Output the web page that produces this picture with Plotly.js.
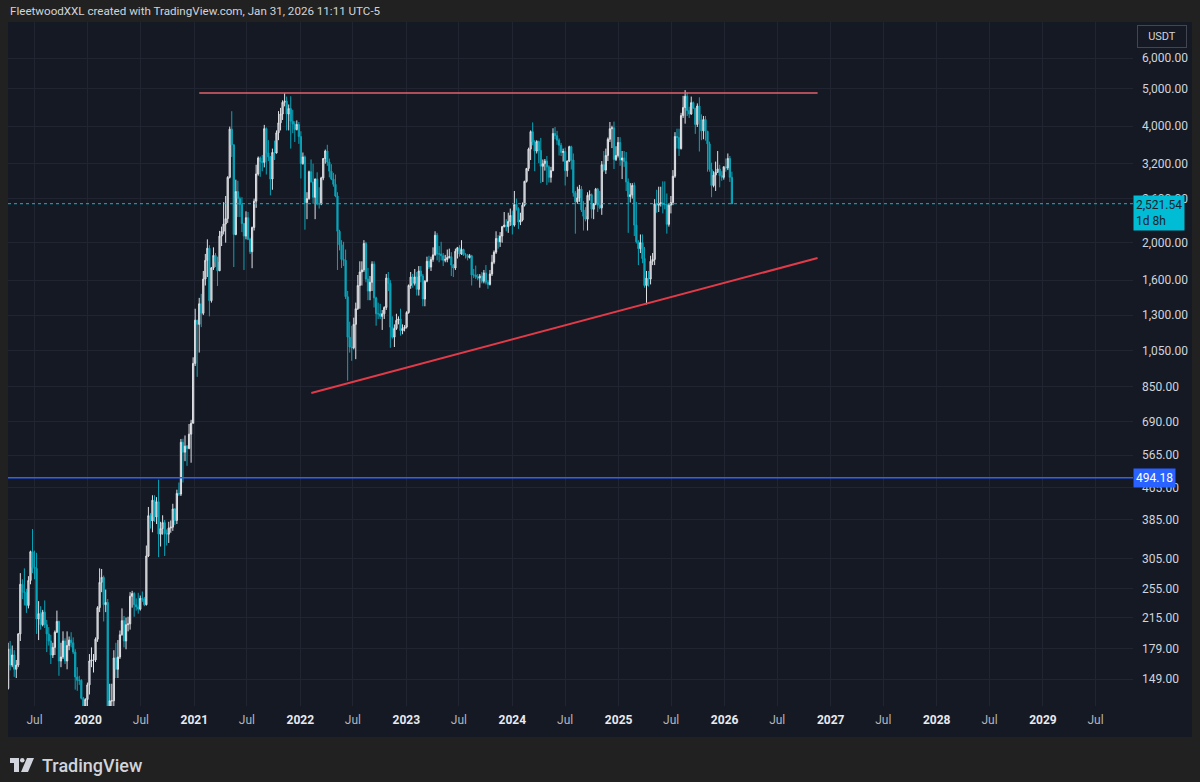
<!DOCTYPE html>
<html><head><meta charset="utf-8">
<script src="https://cdn.plot.ly/plotly-3.0.1.min.js"></script>
<style>html,body{margin:0;padding:0;background:#212121;}#chart{width:1200px;height:782px;}</style>
</head><body><div id="chart"></div>
<script>
// ---------- DATA (ETH/USDT weekly) ----------
const firstWeek = '2019-04-01';
const firstOpen = 141;

const high2019 = [185,187,182,177,167,196,280,270,288,255,275,320,364,320,316,237,230,225,238,212,203,194,185,199,224,211,185,198,190,198,192,197,191,178,160,152,149,134,133,146];
const low2019  = [140,157,160,151,150,160,187,240,231,221,227,262,280,270,195,188,200,204,202,175,182,163,169,172,196,152,160,168,163,158,177,180,173,140,139,144,132,116,124,126];
const close2019= [178,162,172,158,162,195,262,250,250,231,268,318,290,288,213,220,206,222,206,195,187,172,180,197,210,166,170,187,166,182,188,185,175,151,148,148,133,127,132,144];

const high2020 = [173,180,173,191,230,288,287,276,254,240,145,145,177,185,188,199,227,217,215,216,250,252,250,241,249,245,251,243,330,415,400,445,445,440,488,380,395,384,363,380,383,423,412,460,480,622,623,635,600,680,697,1011];
const low2020  = [136,160,155,165,186,222,250,210,222,86,106,125,126,150,150,168,193,180,178,198,200,228,216,224,220,224,236,230,231,308,365,357,380,375,308,328,352,310,330,335,356,360,373,375,443,443,480,545,530,585,540,683];
const close2020= [166,167,167,189,228,265,273,232,235,123,131,131,169,158,170,194,211,187,206,207,244,248,232,229,226,241,240,232,310,394,382,432,391,428,353,365,378,354,353,366,368,410,383,450,448,610,575,596,588,640,683,975];

const high2021 = [1350,1262,1440,1475,1690,1870,2040,1970,1730,1945,1880,1840,2145,2200,2545,2640,2970,3990,4372,3590,2910,2890,2630,2620,2250,2410,2400,2060,2200,2600,3180,3340,3340,3370,4030,3970,3680,3350,3500,3670,3900,4375,4460,4665,4868,4770,4550,4780,4410,4120,4140,4100];
const low2021  = [960,900,1040,1210,1300,1550,1630,1290,1400,1700,1730,1545,1690,1960,2100,2000,2250,2930,3330,1730,2090,2330,2330,2130,1700,2040,2030,1870,1718,2150,2460,2980,2960,3060,3130,3000,3250,2650,2740,3270,3400,3680,3900,4150,4500,3900,3900,3500,3840,3640,3900,3600];
const close2021= [1261,1230,1390,1314,1610,1800,1935,1416,1722,1854,1782,1692,2080,2140,2234,2307,2950,3930,3580,2100,2710,2600,2510,2240,2080,2320,2040,1895,2190,2560,3010,3310,3240,3225,3940,3410,3330,2920,3420,3410,3845,4080,4300,4610,4640,4300,4440,4120,4050,3920,4040,3760];

const high2022 = [3880,3420,3360,2700,3070,3280,3200,2930,3040,2780,2960,3310,3480,3580,3300,3190,3030,3000,2700,2160,2030,2010,1920,1500,1250,1220,1280,1400,1650,1790,1790,2030,2010,1720,1640,1790,1790,1450,1400,1390,1340,1370,1660,1680,1600,1290,1230,1310,1290,1350,1230,1225];
const low2022  = [2930,3180,2160,2300,2580,2860,2520,2300,2500,2450,2500,2900,3200,3160,2950,2900,2790,2620,1700,1910,1720,1740,1430,880,1040,990,1060,1000,1340,1350,1550,1680,1580,1420,1420,1500,1360,1220,1270,1270,1190,1270,1340,1500,1070,1130,1075,1190,1230,1150,1160,1180];
const close2022= [3200,3330,2540,2600,3050,2870,2620,2920,2520,2520,2940,3300,3450,3230,3060,2920,2830,2640,2140,1975,1810,1800,1450,1140,1075,1070,1230,1350,1550,1680,1700,1990,1610,1500,1580,1760,1440,1310,1310,1290,1310,1360,1620,1570,1210,1140,1200,1260,1270,1185,1200,1210];

const high2023 = [1330,1560,1680,1660,1710,1680,1740,1740,1660,1600,1840,1850,1840,1945,2140,2120,1960,2010,1880,1860,1920,1930,1890,1760,1930,1950,1970,2030,1930,1880,1870,1870,1860,1710,1745,1660,1660,1680,1700,1750,1600,1700,1860,1910,2140,2090,2130,2210,2400,2300,2390,2450];
const low2023  = [1200,1310,1520,1530,1550,1460,1460,1580,1370,1370,1580,1710,1690,1785,1850,1800,1780,1800,1740,1780,1780,1820,1640,1630,1700,1820,1840,1860,1850,1820,1800,1820,1550,1620,1610,1600,1530,1570,1570,1560,1520,1550,1640,1760,1870,1930,1950,2000,2190,2140,2120,2210];
const close2023= [1320,1550,1630,1570,1630,1515,1690,1640,1430,1590,1790,1730,1810,1860,2090,1870,1870,1850,1800,1810,1830,1840,1750,1720,1900,1940,1870,1920,1860,1860,1830,1850,1650,1650,1630,1620,1640,1590,1670,1580,1560,1660,1780,1890,2050,2010,2080,2200,2220,2200,2270,2350];

const high2024 = [2420,2720,2600,2470,2390,2540,2890,3120,3520,3900,4090,3680,3680,3670,3730,3280,3290,3350,3170,3140,3950,3980,3890,3720,3620,3500,3520,3260,3560,3560,3400,2720,2790,2820,2800,2560,2470,2700,2730,2680,2530,2770,2770,2720,3250,3450,3500,3740,4100,4010,4110,3550,3750];
const low2024  = [2100,2200,2420,2170,2220,2270,2480,2860,3060,3270,3570,3060,3400,3210,2850,2870,3070,2820,2860,2860,3060,3700,3580,3360,3350,3240,2810,2960,3230,3090,2630,2110,2520,2550,2400,2150,2270,2150,2570,2310,2300,2500,2400,2440,2360,3050,3010,3250,3640,3510,3100,3250,3320];
const close2024= [2220,2510,2450,2260,2290,2500,2880,3110,3490,3870,3640,3450,3650,3460,3150,3200,3250,3140,2950,3070,3830,3780,3680,3570,3420,3440,3070,3250,3540,3270,2690,2550,2610,2750,2430,2340,2300,2650,2660,2440,2520,2750,2500,2460,3180,3080,3360,3700,3940,3960,3280,3360,3630];

const high2025 = [3745,3450,3450,3430,2930,2850,2850,2860,2550,2030,2100,2100,1950,1690,1690,1850,1880,2590,2740,2790,2790,2880,2880,2680,2520,2640,3080,3860,3940,3940,4330,4790,4956,4890,4490,4770,4630,4460,4580,4750,4290,4250,4250,3890,3650,3220,3060,3240,3450,3180,3060,3150];
const low2025  = [3160,2920,3140,2720,2120,2540,2600,2080,1990,1750,1880,1770,1530,1385,1540,1560,1750,1750,2390,2400,2480,2380,2440,2110,2200,2380,2500,2940,3500,3350,3480,4200,4060,4250,4200,4280,4440,3820,3980,3440,3680,3700,3670,3050,3050,2620,2780,2720,3030,2780,2890,2910];
const close2025= [3270,3310,3240,2870,2630,2660,2810,2220,2010,1930,2000,1820,1550,1620,1610,1790,1810,2520,2500,2530,2530,2510,2510,2230,2500,2540,2970,3760,3740,3500,4260,4470,4780,4390,4300,4600,4450,4040,4510,4150,3890,4160,3880,3600,3090,2810,2990,3040,3100,2980,2950,3140];

const high2026 = [3300,3400,3350,3050];
const low2026  = [3050,3080,2870,2515];
const close2026= [3120,3300,2950,2521.54];

// drawn lines
const resistanceDates = ['2021-01-18','2026-11-17'];
const resistancePrices = [4870,4870];
const trendDates = ['2022-02-08','2026-11-17'];
const trendPrices = [818,1825];
const supportPrice = 494.18;
const lastPrice = 2521.54;
const countdown = '1d 8h';

// axis ticks
const priceTicks = [149,179,215,255,305,385,465,565,690,850,1050,1300,1600,2000,2600,3200,4000,5000,6000];
const timeTickDates = ['2019-07-01','2020-01-01','2020-07-01','2021-01-01','2021-07-01','2022-01-01','2022-07-01','2023-01-01','2023-07-01','2024-01-01','2024-07-01','2025-01-01','2025-07-01','2026-01-01','2026-07-01','2027-01-01','2027-07-01','2028-01-01','2028-07-01','2029-01-01','2029-07-01'];
const timeTickLabels = ['Jul','2020','Jul','2021','Jul','2022','Jul','2023','Jul','2024','Jul','2025','Jul','2026','Jul','2027','Jul','2028','Jul','2029','Jul'];

// ---------- BUILD ----------
const highs = [].concat(high2019,high2020,high2021,high2022,high2023,high2024,high2025,high2026);
const lows = [].concat(low2019,low2020,low2021,low2022,low2023,low2024,low2025,low2026);
const closes = [].concat(close2019,close2020,close2021,close2022,close2023,close2024,close2025,close2026);
const opens = [firstOpen].concat(closes.slice(0,-1));
const t0 = Date.parse(firstWeek+'T00:00:00Z');
const dates = closes.map((_,i)=> new Date(t0 + i*7*86400000).toISOString().slice(0,10));

const xRange = ['2019-03-31 14:00','2029-11-07'];
const yRange = [2.1038, 3.8712];

// layout geometry (pixels) -> paper
const L=8, R=1133, T=22, B=706;
const xp = px => (px-L)/(R-L);
const yp = py => (B-py)/(B-T);

const fmt = v => v.toLocaleString('en-US',{minimumFractionDigits:2,maximumFractionDigits:2});

const traces = [
  {type:'candlestick', x:dates, open:opens, high:highs, low:lows, close:closes,
   increasing:{line:{color:'#dfe1e5',width:1}, fillcolor:'#a9adb5'},
   decreasing:{line:{color:'#08a4b9',width:1}, fillcolor:'#08a4b9'},
   whiskerwidth:0, hoverinfo:'skip', showlegend:false},
  {type:'scatter', mode:'lines', x:resistanceDates, y:resistancePrices,
   line:{color:'#e2606b',width:1.5}, hoverinfo:'skip', showlegend:false},
  {type:'scatter', mode:'lines', x:trendDates, y:trendPrices,
   line:{color:'#e23a48',width:2}, hoverinfo:'skip', showlegend:false},
  {type:'scatter', mode:'lines', x:xRange, y:[supportPrice,supportPrice],
   line:{color:'#2962ff',width:1.5}, hoverinfo:'skip', showlegend:false},
  {type:'scatter', mode:'lines', x:xRange, y:[lastPrice,lastPrice],
   line:{color:'#00bcd4',width:1,dash:'dot'}, hoverinfo:'skip', showlegend:false}
];

const tickText = timeTickLabels.map(s => s==='Jul'
  ? '<span style="color:#b2b5be">Jul</span>'
  : '<b>'+s+'</b>');

const P = v => v.toFixed(5);
const logoT = 'M '+P(xp(10))+' '+P(yp(758))+' L '+P(xp(19))+' '+P(yp(758))+' L '+P(xp(19))+' '+P(yp(772))+' L '+P(xp(14))+' '+P(yp(772))+' L '+P(xp(14))+' '+P(yp(763))+' L '+P(xp(10))+' '+P(yp(763))+' Z';
const logoS = 'M '+P(xp(27))+' '+P(yp(758))+' L '+P(xp(34))+' '+P(yp(758))+' L '+P(xp(28))+' '+P(yp(772))+' L '+P(xp(21))+' '+P(yp(772))+' Z';

const layout = {
  width:1200, height:782,
  margin:{l:L, r:1200-R, t:T, b:782-B, pad:0},
  paper_bgcolor:'#212121', plot_bgcolor:'rgba(0,0,0,0)',
  font:{family:'Roboto, "Liberation Sans", sans-serif', size:12, color:'#d1d4dc'},
  boxgap:0.15,
  showlegend:false,
  xaxis:{type:'date', range:xRange, rangeslider:{visible:false},
    tickmode:'array', tickvals:timeTickDates, ticktext:tickText,
    showgrid:true, gridcolor:'#212532', gridwidth:1, zeroline:false, showline:false,
    ticks:'', ticklabelstandoff:5, tickfont:{size:12,color:'#e8eaee'}, fixedrange:true},
  yaxis:{type:'log', side:'right', range:yRange,
    tickmode:'array', tickvals:priceTicks, ticktext:priceTicks.map(fmt),
    showgrid:true, gridcolor:'#212532', gridwidth:1, zeroline:false, showline:false,
    ticks:'', ticklabelstandoff:8, tickfont:{size:12,color:'#d1d4dc'}, fixedrange:true},
  shapes:[
    {type:'rect', xref:'paper', yref:'paper', x0:0, x1:xp(1192), y0:yp(737), y1:1,
     fillcolor:'#151924', line:{width:0}, layer:'below'},
    {type:'path', xref:'paper', yref:'paper', path:logoT, fillcolor:'#d1d4dc', line:{width:0}},
    {type:'circle', xref:'paper', yref:'paper', x0:xp(20), x1:xp(24.5), y0:yp(762.5), y1:yp(758), fillcolor:'#d1d4dc', line:{width:0}},
    {type:'path', xref:'paper', yref:'paper', path:logoS, fillcolor:'#d1d4dc', line:{width:0}}
  ],
  annotations:[
    {xref:'paper', yref:'paper', x:xp(8), y:yp(11), xanchor:'left', yanchor:'middle', showarrow:false,
     text:'FleetwoodXXL created with TradingView.com, Jan 31, 2026 11:11 UTC-5',
     font:{size:11.6, color:'#d1d4dc'}},
    {xref:'paper', yref:'paper', x:xp(40), y:yp(765), xanchor:'left', yanchor:'middle', showarrow:false,
     text:'TradingView', font:{size:18, color:'#d1d4dc', weight:500}},
    {xref:'paper', yref:'paper', x:xp(1162), y:yp(36), xanchor:'center', yanchor:'middle', showarrow:false,
     text:'USDT', width:42, height:15, borderpad:3, bordercolor:'#434651', borderwidth:1, bgcolor:'#151924',
     font:{size:11, color:'#d1d4dc'}},
    {xref:'paper', yref:'y', x:1, y:Math.log10(supportPrice), xanchor:'left', yanchor:'middle', showarrow:false,
     text:fmt(supportPrice), bgcolor:'#2962ff', borderpad:2, font:{size:12, color:'#ffffff'}},
    {xref:'paper', yref:'y', x:1, y:Math.log10(lastPrice), xanchor:'left', yanchor:'top', yshift:9, showarrow:false,
     align:'left', text:fmt(lastPrice)+'<br>'+countdown, bgcolor:'#00bcd4', borderpad:2,
     font:{size:12, color:'#1e222d'}}
  ]
};

Plotly.newPlot('chart', traces, layout, {staticPlot:true, displayModeBar:false});
</script>
</body></html>
